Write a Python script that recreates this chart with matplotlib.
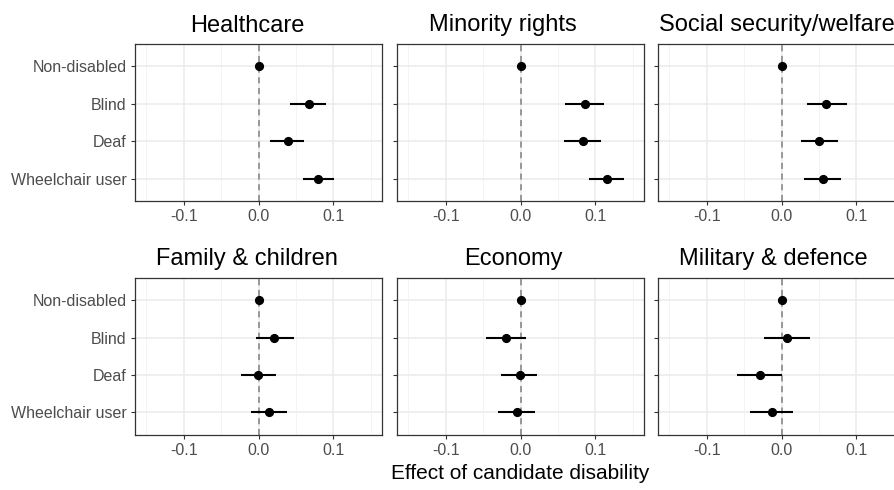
import matplotlib

matplotlib.use("Agg")

import matplotlib.pyplot as plt
import numpy as np

plt.rcParams["font.family"] = ["Liberation Sans", "DejaVu Sans"]

# categories (top to bottom) and panel titles
groups = ["Non-disabled", "Blind", "Deaf", "Wheelchair user"]
titles = ["Healthcare", "Minority rights", "Social security/welfare",
          "Family & children", "Economy", "Military & defence"]

# point estimates per panel, in the order of `groups`
est = [
    [0.0, 0.067, 0.039, 0.080],
    [0.0, 0.086, 0.083, 0.115],
    [0.0, 0.060, 0.050, 0.055],
    [0.0, 0.021, -0.001, 0.014],
    [0.0, -0.020, -0.001, -0.005],
    [0.0, 0.007, -0.029, -0.013],
]
# lower / upper 95% bounds (reference category has none)
lo = [
    [np.nan, 0.042, 0.016, 0.059],
    [np.nan, 0.060, 0.058, 0.092],
    [np.nan, 0.034, 0.026, 0.030],
    [np.nan, -0.003, -0.024, -0.010],
    [np.nan, -0.046, -0.026, -0.030],
    [np.nan, -0.024, -0.059, -0.042],
]
hi = [
    [np.nan, 0.090, 0.061, 0.101],
    [np.nan, 0.112, 0.107, 0.138],
    [np.nan, 0.087, 0.075, 0.080],
    [np.nan, 0.047, 0.023, 0.038],
    [np.nan, 0.008, 0.022, 0.019],
    [np.nan, 0.038, 0.001, 0.016],
]

W, H = 894, 490
fig = plt.figure(figsize=(W / 100, H / 100), dpi=100)

lefts = [135, 397, 658]
tops = [44, 277.7]
pw, ph = 247, 157
title_x = [0.453, 0.43, 0.48, 0.453, 0.47, 0.465]

y = np.arange(len(groups))
for k, name in enumerate(titles):
    r, c = divmod(k, 3)
    ax = fig.add_axes([lefts[c] / W, 1 - (tops[r] + ph) / H, pw / W, ph / H])
    ax.set_xlim(-0.165, 0.165)
    ax.set_ylim(len(groups) - 0.4, -0.6)
    ax.set_xticks([-0.1, 0.0, 0.1])
    ax.set_xticks([-0.15, -0.05, 0.05, 0.15], minor=True)
    ax.set_xticklabels(["-0.1", "0.0", "0.1"])
    ax.set_yticks(y)
    ax.set_yticklabels(groups if c == 0 else [])
    ax.grid(True, which="major", color="#ebebeb", lw=1.1, zorder=0)
    ax.grid(True, which="minor", axis="x", color="#f2f2f2", lw=0.6, zorder=0)
    ax.tick_params(axis="both", which="major", length=3, width=0.8,
                   color="#333333", labelcolor="#4d4d4d", labelsize=11.5, pad=3)
    ax.tick_params(axis="x", which="minor", length=0)
    for s in ax.spines.values():
        s.set_color("#333333")
        s.set_linewidth(0.9)
    ax.set_axisbelow(True)

    ax.axvline(0, color="#808080", ls=(0, (4, 3)), lw=1.1, zorder=2)
    e = np.array(est[k])
    l = np.array(lo[k])
    h = np.array(hi[k])
    ax.hlines(y, l, h, color="black", lw=1.5, zorder=3)
    ax.plot(e, y, "o", color="black", ms=5.6, zorder=4)
    ax.set_title(name, fontsize=17, x=title_x[k], pad=9)

fig.text((397 + 643) / 2 / W, 1 - 473 / H, "Effect of candidate disability",
         ha="center", va="center", fontsize=15)

fig.savefig("out.png", dpi=100)
